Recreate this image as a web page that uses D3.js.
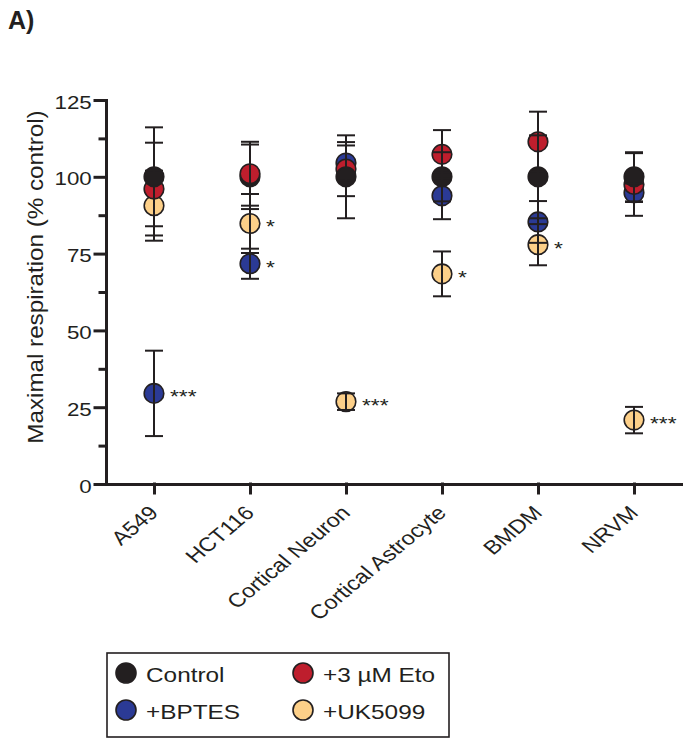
<!DOCTYPE html>
<html>
<head>
<meta charset="utf-8">
<script src="https://cdn.jsdelivr.net/npm/d3@7"></script>
<style>
  body { margin: 0; background: #fff; }
  svg text { font-family: "Liberation Sans", Arial, sans-serif; fill: #231f20; }
</style>
</head>
<body>
<div id="chart"></div>
<script>
// cell types on the x axis
const cells = ["A549", "HCT116", "Cortical Neuron", "Cortical Astrocyte", "BMDM", "NRVM"];

// maximal respiration, % of control (mean and error)
const controlMean = [100, 100, 100, 100, 100, 100];
const controlErr = [16.1, 10.5, 13.5, 8, 13.5, 8];
const etoMean = [96, 101, 102.5, 107.3, 111.4, 97.5];
const etoErr = [15.1, 10.4, 8.8, 7.9, 9.8, 10.2];
const bptesMean = [29.5, 71.7, 104.5, 93.8, 85.3, 94.8];
const bptesErr = [13.9, 4.9, 5.7, 7.6, 6.8, 3];
const ukMean = [90.6, 84.8, 26.8, 68.4, 77.9, 20.8];
const ukErr = [11.4, 9.6, 2.7, 7.3, 6.7, 4.3];

// significance marks
const bptesSig = ["***", "*", "", "", "", ""];
const ukSig = ["", "*", "***", "*", "*", "***"];

const yTicks = [0, 25, 50, 75, 100, 125];
const yMinor = [12.5, 37.5, 62.5, 87.5, 112.5];

const ink = "#231f20";

// drawing order: first drawn ends up underneath
const series = [
    { name: "+UK5099", mean: ukMean, err: ukErr, sig: ukSig, fill: "#fdd089" },
    { name: "+BPTES", mean: bptesMean, err: bptesErr, sig: bptesSig, fill: "#2b3a95" },
    { name: "+3 µM Eto", mean: etoMean, err: etoErr, sig: null, fill: "#be1e2d" },
    { name: "Control", mean: controlMean, err: controlErr, sig: null, fill: ink }
];
// in HCT116 the Eto point sits over the control point
const raised = [{ cell: "HCT116", series: "+3 µM Eto" }];

const points = [];
series.forEach((s, si) => {
    cells.forEach((c, ci) => {
        const up = raised.some(r => r.cell === c && r.series === s.name);
        points.push({ cell: c, series: s.name, mean: s.mean[ci], err: s.err[ci],
            sig: s.sig ? s.sig[ci] : "", fill: s.fill, rank: up ? 10 : si });
    });
});
points.sort((a, b) => a.rank - b.rank);

const svg = d3.select("#chart").append("svg")
    .attr("width", 683)
    .attr("height", 740);

const x = d3.scalePoint().domain(cells).range([106, 682]).padding(0.5);
const y = d3.scaleLinear().domain([0, 125]).range([484, 100]);

// panel letter
svg.append("text")
    .attr("x", 8).attr("y", 28.5)
    .style("font-size", "25px").style("font-weight", "bold")
    .text("A)");

// y axis
const yAxis = svg.append("g")
    .attr("transform", "translate(106,0)")
    .call(d3.axisLeft(y).tickValues(yTicks).tickSize(11).tickSizeOuter(0));
yAxis.selectAll(".tick text")
    .attr("x", null).attr("dy", null)
    .attr("text-anchor", "end")
    .attr("transform", "translate(-14.3,8) scale(1.2,1)")
    .style("font-size", "18.6px");

const yMinorAxis = svg.append("g")
    .attr("transform", "translate(106,0)")
    .call(d3.axisLeft(y).tickValues(yMinor).tickSize(6).tickSizeOuter(0).tickFormat(""));
yMinorAxis.select(".domain").remove();

// x axis
const xAxis = svg.append("g")
    .attr("transform", "translate(0,484)")
    .call(d3.axisBottom(x).tickSize(9).tickSizeOuter(0));
xAxis.selectAll(".tick text")
    .attr("y", null).attr("dy", null)
    .attr("text-anchor", "end")
    .attr("transform", "translate(5,30) scale(1.2,1) rotate(-45)")
    .style("font-size", "19.5px");

svg.selectAll(".domain, .tick line")
    .attr("stroke", ink)
    .attr("stroke-width", 3)
    .attr("stroke-linecap", "square");

// axis title
svg.append("text")
    .attr("transform", "translate(42.5,277) rotate(-90) scale(1.1,1)")
    .attr("text-anchor", "middle")
    .style("font-size", "22px")
    .text("Maximal respiration (% control)");

// points
svg.append("g").selectAll("circle")
    .data(points)
    .enter().append("circle")
    .attr("cx", d => x(d.cell))
    .attr("cy", d => y(d.mean))
    .attr("r", 9.8)
    .attr("fill", d => d.fill)
    .attr("stroke", ink)
    .attr("stroke-width", 1.6);

// error bars on top of the dots
const bars = svg.append("g")
    .attr("stroke", ink)
    .attr("stroke-width", 2)
    .selectAll("g")
    .data(points)
    .enter().append("g");
bars.append("line")
    .attr("x1", d => x(d.cell)).attr("x2", d => x(d.cell))
    .attr("y1", d => y(d.mean + d.err)).attr("y2", d => y(d.mean - d.err));
bars.append("line")
    .attr("x1", d => x(d.cell) - 9).attr("x2", d => x(d.cell) + 9)
    .attr("y1", d => y(d.mean + d.err)).attr("y2", d => y(d.mean + d.err));
bars.append("line")
    .attr("x1", d => x(d.cell) - 9).attr("x2", d => x(d.cell) + 9)
    .attr("y1", d => y(d.mean - d.err)).attr("y2", d => y(d.mean - d.err));

// significance stars
svg.append("g").selectAll("text")
    .data(points.filter(d => d.sig))
    .enter().append("text")
    .attr("transform", d => `translate(${x(d.cell) + 16},${y(d.mean) + 10}) scale(1.2,1)`)
    .style("font-size", "19px")
    .text(d => d.sig);

// legend
const legend = svg.append("g");
legend.append("rect")
    .attr("x", 107).attr("y", 653)
    .attr("width", 342).attr("height", 84)
    .attr("fill", "none")
    .attr("stroke", ink)
    .attr("stroke-width", 1.6);

const legendItems = [
    { name: "Control", fill: ink },
    { name: "+3 µM Eto", fill: "#be1e2d" },
    { name: "+BPTES", fill: "#2b3a95" },
    { name: "+UK5099", fill: "#fdd089" }
];
const item = legend.selectAll(".item")
    .data(legendItems)
    .enter().append("g")
    .attr("class", "item")
    .attr("transform", (d, i) => `translate(${i % 2 ? 303 : 126},${i < 2 ? 673 : 710})`);
item.append("circle")
    .attr("r", 10)
    .attr("fill", d => d.fill)
    .attr("stroke", ink)
    .attr("stroke-width", 1.6);
item.append("text")
    .attr("transform", "translate(20,8.5) scale(1.16,1)")
    .style("font-size", "21px")
    .text(d => d.name);
</script>
</body>
</html>
